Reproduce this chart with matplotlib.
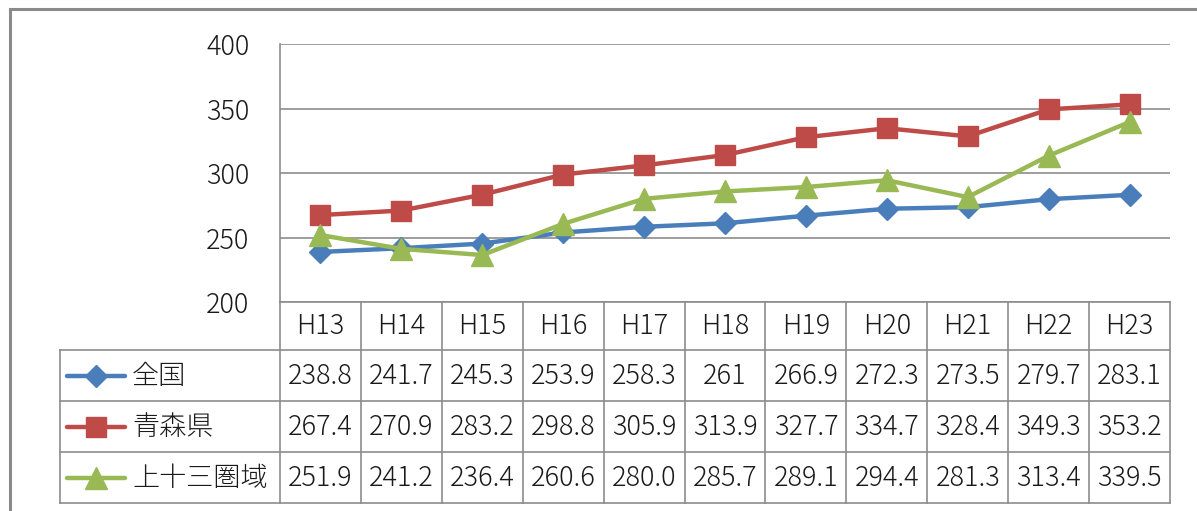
import matplotlib.pyplot as plt
import matplotlib.transforms as mtransforms
from matplotlib.patches import Rectangle
from matplotlib.lines import Line2D

plt.rcParams["font.family"] = ["Noto Sans CJK JP", "DejaVu Sans"]
plt.rcParams["font.weight"] = "light"

years = ["H13", "H14", "H15", "H16", "H17", "H18", "H19", "H20", "H21", "H22", "H23"]
series_names = ["全国", "青森県", "上十三圏域"]
zenkoku = ["238.8", "241.7", "245.3", "253.9", "258.3", "261", "266.9", "272.3", "273.5", "279.7", "283.1"]
aomori = ["267.4", "270.9", "283.2", "298.8", "305.9", "313.9", "327.7", "334.7", "328.4", "349.3", "353.2"]
kamitosan = ["251.9", "241.2", "236.4", "260.6", "280.0", "285.7", "289.1", "294.4", "281.3", "313.4", "339.5"]
yticks = [200, 250, 300, 350, 400]

colors = ["#4a7ebb", "#be4b48", "#98b954"]
markers = ["D", "s", "^"]
sizes = [11, 15, 16]
grid = "#8c8c8c"
ink = "#1a1a1a"
fs = 19.5

W, H = 1197, 511
fig = plt.figure(figsize=(W / 100, H / 100), dpi=100)

def fx(px):
    return px / W

def fy(py):
    return 1 - py / H

# outer chart frame (only top and left edges fall inside the canvas)
fig.patches.append(Rectangle((fx(10), -0.2), 1.5, fy(9) + 0.2, transform=fig.transFigure,
                             fill=False, edgecolor="#8a8a8a", linewidth=2.2))

ax = fig.add_axes([fx(280), fy(302), fx(1170) - fx(280), fy(44) - fy(302)])
x = range(len(years))
for name, vals, c, m, s in zip(series_names, [zenkoku, aomori, kamitosan], colors, markers, sizes):
    ax.plot(x, [float(v) for v in vals], color=c, marker=m, markersize=s,
            linewidth=3.2, markeredgecolor=c, label=name, zorder=3)

ax.set_xlim(-0.5, len(years) - 0.5)
ax.set_ylim(200, 400)
ax.set_yticks(yticks)
ax.set_yticklabels([str(t) for t in yticks], fontsize=fs, color=ink)
ax.tick_params(axis="y", length=0, pad=22)
ax.set_xticks([])
ax.grid(axis="y", color=grid, linewidth=1.2)
for side in ["top", "right", "bottom"]:
    ax.spines[side].set_visible(False)
ax.spines["left"].set_color(grid)
ax.spines["left"].set_linewidth(1.2)

# data table under the plot: x in data units, y in figure pixels
tr = mtransforms.blended_transform_factory(ax.transData, fig.transFigure)
row_edges = [302, 350, 401, 452, 503]
x_left = -0.5 - (280 - 60) / ((1170 - 280) / len(years))
x_right = len(years) - 0.5

def hline(x0, x1, py):
    fig.add_artist(Line2D([x0, x1], [fy(py), fy(py)], transform=tr, color=grid, linewidth=1.2))

def vline(xd, py0, py1):
    fig.add_artist(Line2D([xd, xd], [fy(py0), fy(py1)], transform=tr, color=grid, linewidth=1.2))

hline(-0.5, x_right, row_edges[0])
for py in row_edges[1:]:
    hline(x_left, x_right, py)
for i in range(len(years) + 1):
    vline(i - 0.5, row_edges[0], row_edges[-1])
vline(x_left, row_edges[1], row_edges[-1])

for i, yr in enumerate(years):
    fig.text(i, fy((row_edges[0] + row_edges[1]) / 2), yr, transform=tr,
             ha="center", va="center", fontsize=fs, color=ink)

for r, (name, vals, c, m, s) in enumerate(zip(series_names, [zenkoku, aomori, kamitosan], colors, markers, sizes)):
    yc = fy((row_edges[r + 1] + row_edges[r + 2]) / 2)
    for i, v in enumerate(vals):
        fig.text(i, yc, v, transform=tr, ha="center", va="center", fontsize=fs, color=ink)
    # legend key in the row header
    fig.add_artist(Line2D([fx(67), fx(125)], [yc, yc], transform=fig.transFigure,
                          color=c, linewidth=3.2, solid_capstyle="round"))
    fig.add_artist(Line2D([fx(96)], [yc], transform=fig.transFigure, color=c,
                          marker=m, markersize=s, markeredgecolor=c))
    fig.text(fx(132), yc, name, ha="left", va="center", fontsize=fs, color=ink)

fig.savefig("out.png", dpi=100)
